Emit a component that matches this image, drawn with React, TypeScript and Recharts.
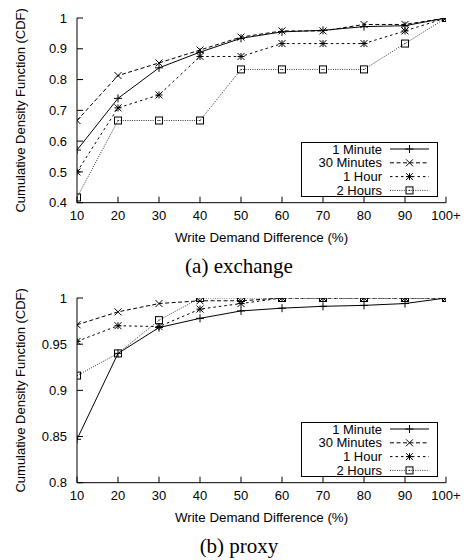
import React from 'react';
import { LineChart, Line, XAxis, YAxis, Legend, Label } from 'recharts';

const xValues = [10, 20, 30, 40, 50, 60, 70, 80, 90, 100];
const xLabels = ['10', '20', '30', '40', '50', '60', '70', '80', '90', '100+'];
const seriesNames = ['1 Minute', '30 Minutes', '1 Hour', '2 Hours'];

const exchangeMin1 = [0.571, 0.739, 0.838, 0.889, 0.934, 0.955, 0.96, 0.972, 0.975, 1];
const exchangeMin30 = [0.667, 0.813, 0.854, 0.896, 0.938, 0.958, 0.958, 0.979, 0.979, 1];
const exchangeHour1 = [0.5, 0.708, 0.75, 0.875, 0.875, 0.917, 0.917, 0.917, 0.958, 1];
const exchangeHour2 = [0.417, 0.667, 0.667, 0.667, 0.833, 0.833, 0.833, 0.833, 0.917, 1];

const proxyMin1 = [0.847, 0.94, 0.968, 0.978, 0.986, 0.989, 0.991, 0.992, 0.994, 1];
const proxyMin30 = [0.971, 0.985, 0.994, 0.997, 0.997, 1, 1, 1, 1, 1];
const proxyHour1 = [0.953, 0.97, 0.969, 0.988, 0.994, 1, 1, 1, 1, 1];
const proxyHour2 = [0.916, 0.94, 0.976, 1, 1, 1, 1, 1, 1, 1];

const exchangeYTicks = [0.4, 0.5, 0.6, 0.7, 0.8, 0.9, 1];
const proxyYTicks = [0.8, 0.85, 0.9, 0.95, 1];

const keys = ['m1', 'm30', 'h1', 'h2'];
const markerKinds: Record<string, string> = { m1: 'plus', m30: 'cross', h1: 'star', h2: 'square' };
const dashes: Record<string, string | undefined> = { m1: undefined, m30: '4 2.5', h1: '2.5 3', h2: '1 1.3' };
const strokes: Record<string, string> = { m1: '#000', m30: '#000', h1: '#000', h2: '#333' };

function buildData(a: number[], b: number[], c: number[], d: number[]) {
  return xValues.map((x, i) => ({ x, m1: a[i], m30: b[i], h1: c[i], h2: d[i] }));
}

const exchangeData = buildData(exchangeMin1, exchangeMin30, exchangeHour1, exchangeHour2);
const proxyData = buildData(proxyMin1, proxyMin30, proxyHour1, proxyHour2);

function Marker({ kind, cx, cy }: { kind: string; cx: number; cy: number }) {
  const s = 3.5;
  const st = { stroke: '#000', strokeWidth: 1, fill: 'none' };
  if (kind === 'plus') {
    return (
      <g {...st}>
        <line x1={cx - s - 0.5} x2={cx + s + 0.5} y1={cy} y2={cy} />
        <line x1={cx} x2={cx} y1={cy - s - 0.5} y2={cy + s + 0.5} />
      </g>
    );
  }
  if (kind === 'cross') {
    return (
      <g {...st}>
        <line x1={cx - s} x2={cx + s} y1={cy - s} y2={cy + s} />
        <line x1={cx - s} x2={cx + s} y1={cy + s} y2={cy - s} />
      </g>
    );
  }
  if (kind === 'star') {
    return (
      <g {...st}>
        <line x1={cx - s} x2={cx + s} y1={cy - s} y2={cy + s} />
        <line x1={cx - s} x2={cx + s} y1={cy + s} y2={cy - s} />
        <line x1={cx - s} x2={cx + s} y1={cy} y2={cy} />
        <line x1={cx} x2={cx} y1={cy - s} y2={cy + s} />
      </g>
    );
  }
  return (
    <g {...st}>
      <rect x={cx - s} y={cy - s} width={2 * s} height={2 * s} />
      <rect x={cx - 0.5} y={cy - 0.5} width={1} height={1} fill="#000" stroke="none" />
    </g>
  );
}

const renderLegend = (props: any) => {
  const items = [...(props.payload || [])].sort(
    (a: any, b: any) => keys.indexOf(a.dataKey) - keys.indexOf(b.dataKey)
  );
  return (
    <svg width={137} height={55} style={{ display: 'block', overflow: 'visible' }}>
      <rect x={0.5} y={0.5} width={136} height={54} fill="#fff" stroke="#000" strokeWidth={1} />
      {items.map((it: any, i: number) => {
        const k = it.dataKey as string;
        const cy = 7 + i * 13.8;
        return (
          <g key={k}>
            <text
              x={81}
              y={cy}
              textAnchor="end"
              dominantBaseline="central"
              fontSize={13}
              fill="#000"
              fontFamily="'Liberation Sans', Arial, sans-serif"
            >
              {it.value}
            </text>
            <line x1={89} x2={128} y1={cy} y2={cy} stroke={strokes[k]} strokeWidth={1} strokeDasharray={dashes[k]} />
            <Marker kind={markerKinds[k]} cx={108.5} cy={cy} />
          </g>
        );
      })}
    </svg>
  );
};

function Panel({ data, yDomain, yTicks }: { data: any[]; yDomain: [number, number]; yTicks: number[] }) {
  const tickStyle = { fill: '#000', fontSize: 13 };
  return (
    <LineChart
      width={464}
      height={280}
      data={data}
      margin={{ top: 18, right: 18, left: 0, bottom: 37.3 }}
      style={{ fontFamily: "'Liberation Sans', Arial, sans-serif" }}
    >
      <XAxis
        dataKey="x"
        type="number"
        domain={[10, 100]}
        ticks={xValues}
        tickFormatter={(v: number) => xLabels[xValues.indexOf(v)] ?? String(v)}
        tick={tickStyle}
        tickSize={-6}
        tickMargin={14.5}
        height={40}
        stroke="#000"
        tickLine={{ stroke: '#000' }}
        axisLine={{ stroke: '#000' }}
        allowDataOverflow
      >
        <Label
          value="Write Demand Difference (%)"
          position="insideBottom"
          offset={1}
          style={{ fill: '#000', fontSize: 13.3 }}
        />
      </XAxis>
      <XAxis
        xAxisId="top"
        dataKey="x"
        orientation="top"
        type="number"
        domain={[10, 100]}
        ticks={xValues}
        tick={false}
        tickSize={-6}
        height={0}
        stroke="#000"
        allowDataOverflow
      />
      <YAxis
        type="number"
        domain={yDomain}
        ticks={yTicks}
        tick={tickStyle}
        tickSize={-6}
        tickMargin={16}
        width={77}
        stroke="#000"
        allowDataOverflow
      >
        <Label
          value="Cumulative Density Function (CDF)"
          angle={-90}
          position="insideLeft"
          offset={20}
          style={{ fill: '#000', fontSize: 13, textAnchor: 'middle' }}
        />
      </YAxis>
      <YAxis
        yAxisId="right"
        orientation="right"
        type="number"
        domain={yDomain}
        ticks={yTicks}
        tick={false}
        tickSize={-6}
        width={0}
        stroke="#000"
        allowDataOverflow
      />
      {keys.map((k, i) => (
        <Line
          key={k}
          dataKey={k}
          name={seriesNames[i]}
          type="linear"
          stroke={strokes[k]}
          strokeWidth={1}
          strokeDasharray={dashes[k]}
          isAnimationActive={false}
          dot={(p: any) => <Marker key={`${k}-${p.index}`} kind={markerKinds[k]} cx={p.cx} cy={p.cy} />}
          activeDot={false}
        />
      ))}
      <Legend
        layout="vertical"
        verticalAlign="middle"
        align="center"
        width={137}
        height={55}
        content={renderLegend}
        wrapperStyle={{ left: 301, top: 142, right: 'auto', bottom: 'auto', width: 137, height: 55 }}
      />
    </LineChart>
  );
}

const captionStyle: React.CSSProperties = {
  position: 'absolute',
  left: 0,
  width: 478,
  textAlign: 'center',
  fontFamily: "'Liberation Serif', 'Times New Roman', serif",
  fontSize: 21,
  lineHeight: '21px',
  color: '#000',
};

export default function App() {
  return (
    <div style={{ position: 'absolute', left: 0, top: 0, width: 464, height: 560, background: '#fff' }}>
      <div style={{ position: 'absolute', left: 0, top: 0 }}>
        <Panel data={exchangeData} yDomain={[0.4, 1]} yTicks={exchangeYTicks} />
      </div>
      <div style={{ ...captionStyle, top: 256.4 }}>(a) exchange</div>
      <div style={{ position: 'absolute', left: 0, top: 280 }}>
        <Panel data={proxyData} yDomain={[0.8, 1]} yTicks={proxyYTicks} />
      </div>
      <div style={{ ...captionStyle, top: 535.7 }}>(b) proxy</div>
    </div>
  );
}
